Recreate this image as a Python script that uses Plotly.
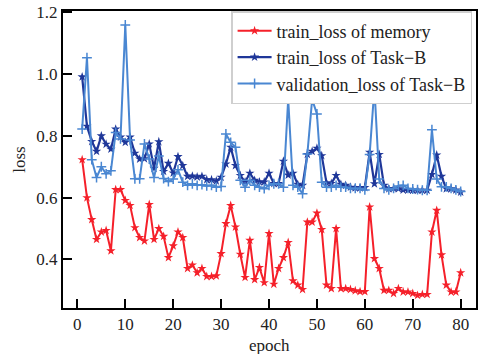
import plotly.graph_objects as go

epochs = list(range(1, 81))

train_loss_memory = [
    0.723, 0.600, 0.529, 0.465, 0.489, 0.494, 0.428, 0.626, 0.626, 0.591,
    0.575, 0.503, 0.471, 0.460, 0.578, 0.465, 0.500, 0.475, 0.406, 0.444,
    0.489, 0.471, 0.371, 0.382, 0.357, 0.371, 0.345, 0.345, 0.347, 0.419,
    0.516, 0.575, 0.505, 0.417, 0.342, 0.462, 0.335, 0.374, 0.325, 0.484,
    0.320, 0.371, 0.406, 0.455, 0.331, 0.317, 0.303, 0.521, 0.521, 0.550,
    0.497, 0.317, 0.306, 0.500, 0.306, 0.306, 0.303, 0.299, 0.296, 0.296,
    0.570, 0.403, 0.371, 0.300, 0.300, 0.290, 0.306, 0.295, 0.295, 0.290,
    0.284, 0.287, 0.287, 0.489, 0.559, 0.415, 0.317, 0.295, 0.295, 0.357,
]

train_loss_task_b = [
    0.991, 0.831, 0.782, 0.750, 0.800, 0.773, 0.757, 0.822, 0.796, 0.779,
    0.796, 0.744, 0.725, 0.726, 0.774, 0.695, 0.781, 0.685, 0.711, 0.680,
    0.733, 0.704, 0.669, 0.670, 0.667, 0.669, 0.658, 0.658, 0.654, 0.666,
    0.709, 0.763, 0.704, 0.672, 0.651, 0.679, 0.656, 0.651, 0.651, 0.679,
    0.646, 0.646, 0.718, 0.673, 0.679, 0.643, 0.640, 0.740, 0.750, 0.760,
    0.736, 0.648, 0.646, 0.672, 0.643, 0.640, 0.634, 0.632, 0.632, 0.633,
    0.747, 0.645, 0.740, 0.640, 0.629, 0.630, 0.629, 0.625, 0.625, 0.624,
    0.624, 0.624, 0.624, 0.675, 0.738, 0.669, 0.629, 0.629, 0.625, 0.618,
]

val_loss_task_b = [
    0.822, 1.053, 0.723, 0.665, 0.700, 0.677, 0.687, 0.811, 0.790, 1.159,
    0.787, 0.661, 0.661, 0.774, 0.725, 0.665, 0.735, 0.662, 0.652, 0.660,
    0.690, 0.650, 0.640, 0.645, 0.640, 0.642, 0.638, 0.640, 0.634, 0.636,
    0.806, 0.779, 0.763, 0.656, 0.634, 0.656, 0.640, 0.634, 0.629, 0.640,
    0.645, 0.645, 0.634, 0.919, 0.640, 0.634, 0.613, 0.741, 0.918, 0.871,
    0.650, 0.634, 0.634, 0.640, 0.634, 0.634, 0.630, 0.630, 0.630, 0.625,
    0.740, 0.956, 0.660, 0.630, 0.625, 0.630, 0.638, 0.640, 0.630, 0.628,
    0.626, 0.624, 0.624, 0.820, 0.660, 0.635, 0.635, 0.630, 0.625, 0.620,
]

x_ticks = [0, 10, 20, 30, 40, 50, 60, 70, 80]
y_ticks = [0.4, 0.6, 0.8, 1.0, 1.2]

FONT = "Liberation Serif"
TEXT = "#222"

fig = go.Figure()
fig.add_trace(go.Scatter(
    x=epochs, y=train_loss_memory, mode="lines+markers",
    name="train_loss of memory",
    line=dict(color="#f5202a", width=2),
    marker=dict(symbol="star", size=7, color="#f5202a"),
))
fig.add_trace(go.Scatter(
    x=epochs, y=train_loss_task_b, mode="lines+markers",
    name="train_loss of Task\u2212B",
    line=dict(color="#1f3799", width=2.2),
    marker=dict(symbol="star", size=7, color="#1f3799"),
))
fig.add_trace(go.Scatter(
    x=epochs, y=val_loss_task_b, mode="lines+markers",
    name="validation_loss of Task\u2212B",
    line=dict(color="#4a87d2", width=2),
    marker=dict(symbol="cross-thin", size=7,
                line=dict(color="#4a87d2", width=1.5)),
))

axis_common = dict(
    showline=True, linecolor="black", linewidth=2, mirror=True,
    ticks="inside", ticklen=9, tickwidth=2, tickcolor="black",
    showgrid=False, zeroline=False,
    tickfont=dict(family=FONT, size=17, color=TEXT),
)

fig.update_xaxes(range=[-3.0, 83.2], tickvals=x_ticks, **axis_common)
fig.update_yaxes(
    range=[0.243, 1.204], tickvals=y_ticks, tickformat=".1f",
    title=dict(text="loss", font=dict(family=FONT, size=17, color=TEXT), standoff=6),
    **axis_common,
)

# x-axis title placed as an annotation so it sits close under the tick labels
fig.add_annotation(
    text="epoch", xref="paper", yref="paper", x=0.5, y=-0.088,
    xanchor="center", yanchor="top", showarrow=False,
    font=dict(family=FONT, size=17, color=TEXT),
)

fig.update_layout(
    width=481, height=354,
    margin=dict(l=63, r=3, t=10, b=46),
    plot_bgcolor="white", paper_bgcolor="white",
    font=dict(family=FONT, size=17, color=TEXT),
    legend=dict(
        x=0.407, y=1.0, xanchor="left", yanchor="top",
        bgcolor="white", bordercolor="#cfcfcf", borderwidth=1.5,
        font=dict(family=FONT, size=18, color=TEXT),
        tracegroupgap=0, itemwidth=34,
    ),
)

fig.write_html("out.html")
